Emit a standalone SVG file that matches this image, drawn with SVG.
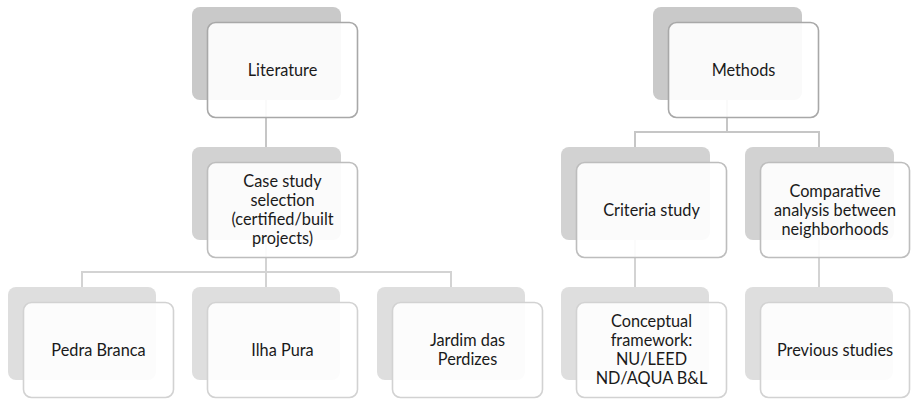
<svg xmlns="http://www.w3.org/2000/svg" width="911" height="401" viewBox="0 0 911 401">
<style>
.bg{fill:#ffffff}
.s1{fill:#c9c9c9}
.s2{fill:#d2d2d2}
.s3{fill:#dedede}
.f{fill:#ffffff;fill-opacity:0.9;stroke-width:1.6}
.f1{stroke:#a8a8a8}
.f2{stroke:#bdbdbd}
.f3{stroke:#d2d2d2}
.c1{fill:none;stroke:#c6c6c6;stroke-width:2}
.c2{fill:none;stroke:#d3d3d3;stroke-width:2}
text{font-family:Lato,"Liberation Sans",sans-serif;font-size:16.3px;fill:#1a1a1a;text-anchor:middle}
</style>
<rect class="bg" x="0" y="0" width="911" height="401"/>
<g id="connectors">
<path class="c1" d="M266 100 V147"/>
<path class="c1" d="M727 100 V132 M635 132 H819 M635 131 V147 M819 131 V147"/>
<path class="c2" d="M266 240 V272 M82 272 H451 M82 271 V287 M266 272 V287 M451 271 V287"/>
<path class="c2" d="M635 240 V287"/>
<path class="c2" d="M819 240 V287"/>
</g>
<g id="literature">
<rect class="s1" x="192" y="7" width="149" height="93" rx="8"/>
<rect class="f f1" x="207.5" y="22.5" width="150" height="95" rx="8"/>
<text x="282.5" y="76">Literature</text>
</g>
<g id="methods">
<rect class="s1" x="653" y="7" width="149" height="93" rx="8"/>
<rect class="f f1" x="668.5" y="22.5" width="150" height="95" rx="8"/>
<text x="743.5" y="76">Methods</text>
</g>
<g id="case-study">
<rect class="s2" x="192" y="147" width="149" height="93" rx="8"/>
<rect class="f f2" x="207.5" y="162.5" width="150" height="95" rx="8"/>
<text x="282.5" y="187">Case study</text>
<text x="282.5" y="206">selection</text>
<text x="282.5" y="225">(certified/built</text>
<text x="282.5" y="244">projects)</text>
</g>
<g id="criteria">
<rect class="s2" x="561" y="147" width="149" height="93" rx="8"/>
<rect class="f f2" x="576.5" y="162.5" width="150" height="95" rx="8"/>
<text x="651.5" y="216">Criteria study</text>
</g>
<g id="comparative">
<rect class="s2" x="745" y="147" width="149" height="93" rx="8"/>
<rect class="f f2" x="760.5" y="162.5" width="149" height="95" rx="8"/>
<text x="835" y="197">Comparative</text>
<text x="835" y="216">analysis between</text>
<text x="835" y="235">neighborhoods</text>
</g>
<g id="pedra-branca">
<rect class="s3" x="8" y="287" width="148" height="93" rx="8"/>
<rect class="f f3" x="23.5" y="302.5" width="150" height="95" rx="8"/>
<text x="98.5" y="356">Pedra Branca</text>
</g>
<g id="ilha-pura">
<rect class="s3" x="192" y="287" width="148" height="93" rx="8"/>
<rect class="f f3" x="207.5" y="302.5" width="150" height="95" rx="8"/>
<text x="282.5" y="356">Ilha Pura</text>
</g>
<g id="jardim">
<rect class="s3" x="377" y="287" width="148" height="93" rx="8"/>
<rect class="f f3" x="392.5" y="302.5" width="150" height="95" rx="8"/>
<text x="467.5" y="346">Jardim das</text>
<text x="467.5" y="365">Perdizes</text>
</g>
<g id="conceptual">
<rect class="s3" x="561" y="287" width="148" height="93" rx="8"/>
<rect class="f f3" x="576.5" y="302.5" width="150" height="95" rx="8"/>
<text x="651.5" y="327">Conceptual</text>
<text x="651.5" y="346">framework:</text>
<text x="651.5" y="365">NU/LEED</text>
<text x="651.5" y="384">ND/AQUA B&amp;L</text>
</g>
<g id="previous">
<rect class="s3" x="745" y="287" width="148" height="93" rx="8"/>
<rect class="f f3" x="760.5" y="302.5" width="149" height="95" rx="8"/>
<text x="835" y="356">Previous studies</text>
</g>
</svg>
